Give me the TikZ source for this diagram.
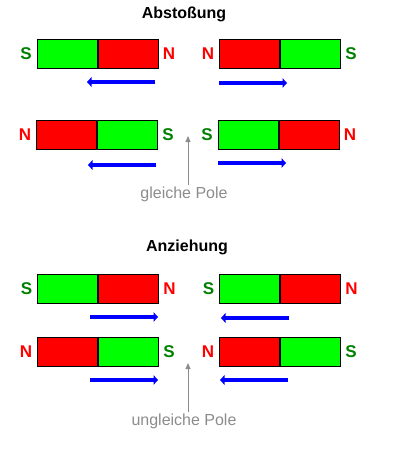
\documentclass[tikz,border=0pt]{standalone}
\usepackage{fontspec}
\setmainfont{Liberation Sans}
\usetikzlibrary{arrows.meta}

\definecolor{colS}{RGB}{0,255,0}
\definecolor{colN}{RGB}{255,0,0}
\definecolor{txtS}{RGB}{0,128,0}
\definecolor{txtN}{RGB}{255,0,0}
\definecolor{push}{RGB}{0,0,255}
\definecolor{hintgray}{RGB}{140,140,140}

\tikzset{
  half/.style={draw=black,line width=1pt,minimum width=60pt,minimum height=28.5pt,inner sep=0pt,anchor=west},
  polS/.style={text=txtS,font=\fontsize{17}{17}\selectfont\bfseries,inner sep=0pt},
  polN/.style={text=txtN,font=\fontsize{17}{17}\selectfont\bfseries,inner sep=0pt},
  title/.style={font=\fontsize{16}{16}\selectfont\bfseries},
  move/.style={draw=push,line width=4pt,-{Triangle[length=4.5pt,width=9.5pt]}},
  hint/.style={draw=hintgray,line width=0.9pt,-{Triangle[length=6pt,width=5pt]}},
  hinttext/.style={text=hintgray,font=\fontsize{16}{16}\selectfont,inner sep=1pt}
}

\begin{document}
\begin{tikzpicture}[x=1pt,y=-1pt]
\useasboundingbox (0,0) rectangle (400,450);
\node[title] at (184,14) (t1) {Abstoßung};
\node[title] at (187,247) (t2) {Anziehung};
% magnets: left half, right half
\foreach \m/\x/\y/\a/\b in {a/36.5/54/S/N, b/218.5/54/N/S, c/35.5/135/N/S, d/217.5/135/S/N,
                            e/37/289/S/N, f/219/289/S/N, g/36.5/352/N/S, h/218.5/352/N/S}{
  \node[half,fill=col\a] at (\x,\y) (\m1) {};
  \node[half,fill=col\b] at (\m1.east) (\m2) {};
  \node[pol\a] at ([xshift=-10.5pt]\m1.west) (\m3) {\a};
  \node[pol\b] at ([xshift=10.5pt]\m2.east) (\m4) {\b};
}
% direction of motion
\foreach \m/\s/\e/\y in {a/155/87/82, b/219/287/83, c/156/88/165, d/218/286/163,
                         e/90/158/317, f/289/221/318, g/90/158/380, h/288/220/380}{
  \coordinate (\m5) at (\s,\y);
  \coordinate (\m6) at (\e,\y);
  \draw[move] (\m5) -- (\m6);
}
\node[hinttext] at (184,194) (p1) {gleiche Pole};
\node[hinttext] at (184,421) (p2) {ungleiche Pole};
\coordinate (q1) at (188,136);
\coordinate (q2) at (188,363);
\draw[hint] (q1 |- p1.north) -- (q1);
\draw[hint] (q2 |- p2.north) -- (q2);
\end{tikzpicture}
\end{document}
